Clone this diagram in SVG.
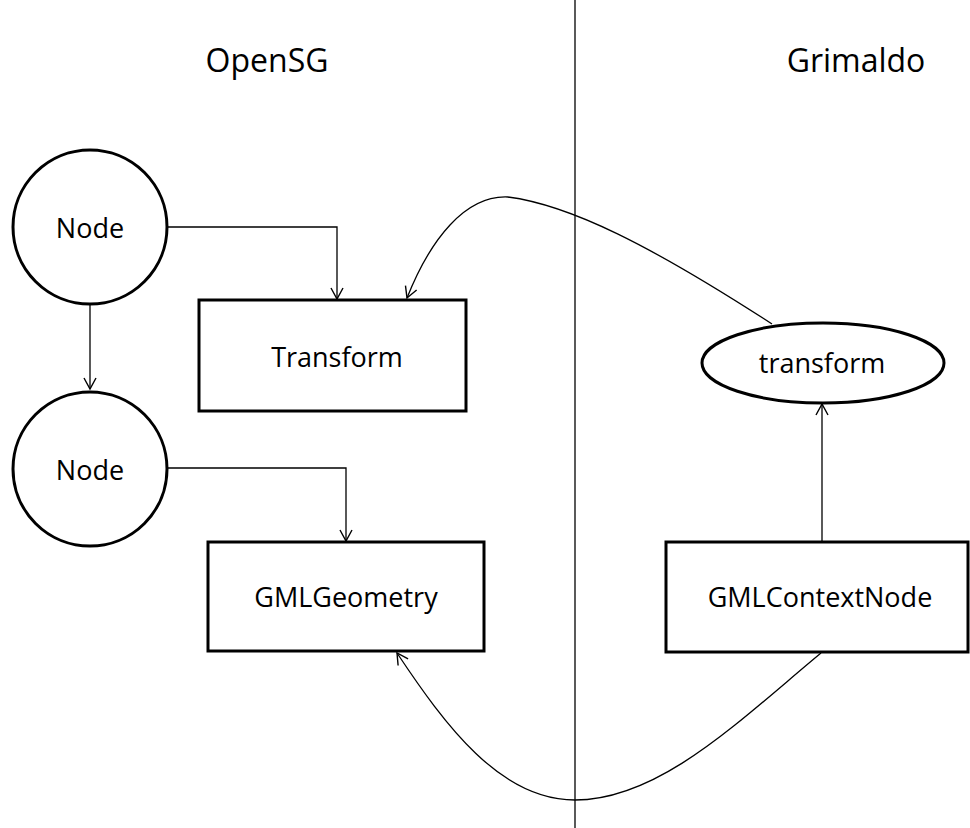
<svg xmlns="http://www.w3.org/2000/svg" width="970" height="828" viewBox="0 0 970 828">
  <style>
    .shape { fill: #fff; stroke: #000; stroke-width: 3; }
    .conn { fill: none; stroke: #000; stroke-width: 1.3; }
    .lbl { font-family: "Open Sans", "Liberation Sans", sans-serif; font-size: 27px; fill: #000; text-anchor: middle; }
    .title { font-family: "Open Sans", "Liberation Sans", sans-serif; font-size: 32px; fill: #000; text-anchor: middle; }
  </style>
  <defs>
    <marker id="arr" viewBox="-12 -7 14 14" markerWidth="14" markerHeight="14" refX="0" refY="0" orient="auto" markerUnits="userSpaceOnUse">
      <path d="M-11,-6 L0,0 L-11,6" fill="none" stroke="#000" stroke-width="1.4"/>
    </marker>
  </defs>
  <rect width="970" height="828" fill="#fff"/>

  <line x1="575" y1="0" x2="575" y2="828" stroke="#000" stroke-width="1.3"/>
  <text class="title" x="267" y="72">OpenSG</text>
  <text class="title" x="856" y="72">Grimaldo</text>

  <g id="connectors">
    <path class="conn" d="M168,227 H337 V299" marker-end="url(#arr)"/>
    <path class="conn" d="M90,305 V389" marker-end="url(#arr)"/>
    <path class="conn" d="M168,468 H346 V541" marker-end="url(#arr)"/>
    <path class="conn" d="M822,542 V404" marker-end="url(#arr)"/>
    <path class="conn" d="M772,324 C650,245 570,205 508,197 C465,195 430,240 407,298" marker-end="url(#arr)"/>
    <path class="conn" d="M821,653 C740,720 660,800 575,800 C500,800 445,725 397,653" marker-end="url(#arr)"/>
  </g>

  <g id="node1">
    <circle class="shape" cx="90" cy="227" r="77"/>
    <text class="lbl" x="90" y="238">Node</text>
  </g>
  <g id="node2">
    <circle class="shape" cx="90" cy="469" r="77"/>
    <text class="lbl" x="90" y="480">Node</text>
  </g>
  <g id="transformBox">
    <rect class="shape" x="199" y="300" width="267" height="111"/>
    <text class="lbl" x="337" y="367">Transform</text>
  </g>
  <g id="gmlGeometry">
    <rect class="shape" x="208" y="542" width="276" height="109"/>
    <text class="lbl" x="346" y="607">GMLGeometry</text>
  </g>
  <g id="transformEllipse">
    <ellipse class="shape" cx="823" cy="363" rx="121" ry="40"/>
    <text class="lbl" x="822" y="373">transform</text>
  </g>
  <g id="gmlContextNode">
    <rect class="shape" x="666" y="542" width="302" height="110"/>
    <text class="lbl" x="820" y="607">GMLContextNode</text>
  </g>
</svg>
